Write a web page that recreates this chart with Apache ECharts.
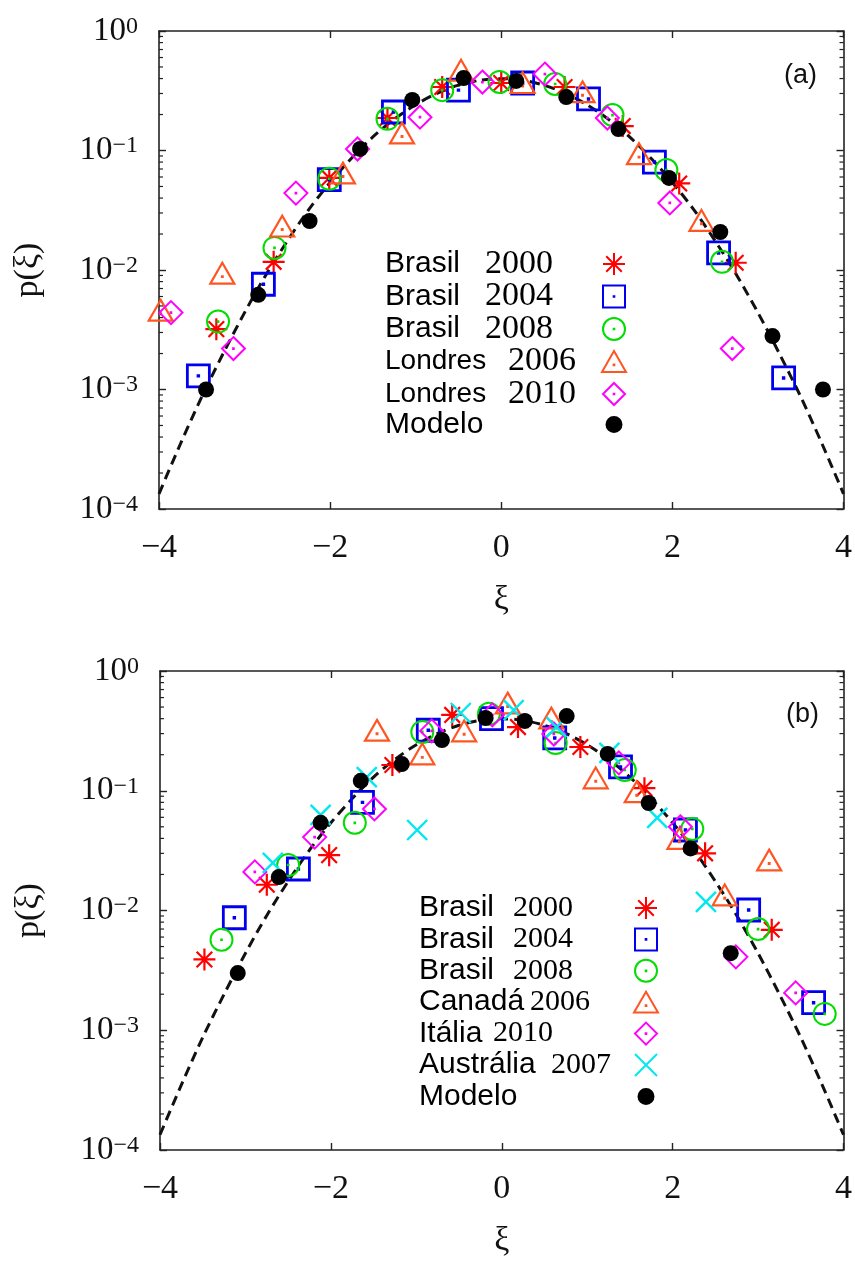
<!DOCTYPE html>
<html><head><meta charset="utf-8">
<script src="https://cdn.jsdelivr.net/npm/echarts@6/dist/echarts.min.js"></script>
<style>html,body{margin:0;padding:0;background:#fff}#c{width:855px;height:1264px}</style>
</head><body><div id="c"></div><script>
// ---------- data ----------
const xTickLabels = {'-4':'−4','-2':'−2','0':'0','2':'2','4':'4'};
const yTickExp = ['0','−1','−2','−3','−4'];
const minorMantissa = [2,3,4,5,6,7,8,9];
const minorDecades = [1e-4,1e-3,1e-2,1e-1];

const curveX = [-4,-3.75,-3.5,-3.25,-3,-2.75,-2.5,-2.25,-2,-1.75,-1.5,-1.25,-1,-0.75,-0.5,-0.25,0,0.25,0.5,0.75,1,1.25,1.5,1.75,2,2.25,2.5,2.75,3,3.25,3.5,3.75,4];
const curveY = [1.34e-4,3.5e-4,8.7e-4,2.0e-3,4.4e-3,9.1e-3,1.75e-2,3.2e-2,5.4e-2,8.6e-2,0.130,0.183,0.242,0.301,0.352,0.387,0.399,0.387,0.352,0.301,0.242,0.183,0.130,8.6e-2,5.4e-2,3.2e-2,1.75e-2,9.1e-3,4.4e-3,2.0e-3,8.7e-4,3.5e-4,1.34e-4];

// panel (a)
const a_bra2000 = [[-3.33,3.2e-3],[-2.66,0.0117],[-2.01,0.059],[-1.33,0.187],[-0.69,0.34],[0.0,0.367],[0.74,0.34],[1.42,0.16],[2.08,0.053],[2.74,0.0115]];
const a_bra2004 = [[-3.54,1.3e-3],[-2.78,7.6e-3],[-2.01,0.057],[-1.26,0.21],[-0.50,0.32],[0.25,0.367],[1.02,0.27],[1.79,0.080],[2.54,0.0139],[3.30,1.25e-3]];
const a_bra2008 = [[-3.31,3.7e-3],[-2.65,0.0153],[-2.01,0.058],[-1.33,0.184],[-0.69,0.32],[-0.02,0.374],[0.63,0.36],[1.30,0.198],[1.93,0.0687],[2.58,0.0117]];
const a_lon2006 = [[-3.98,4.6e-3],[-3.26,9.4e-3],[-2.56,0.0233],[-1.85,0.0648],[-1.16,0.14],[-0.47,0.47],[0.25,0.37],[0.95,0.31],[1.61,0.094],[2.34,0.026]];
const a_lon2010 = [[-3.86,4.4e-3],[-3.13,2.2e-3],[-2.40,0.044],[-1.68,0.103],[-0.95,0.19],[-0.22,0.374],[0.51,0.436],[1.24,0.187],[1.97,0.0364],[2.70,2.2e-3]];
const a_model = [[-3.45,1.0e-3],[-2.84,6.2e-3],[-2.24,0.0257],[-1.65,0.103],[-1.04,0.265],[-0.44,0.404],[0.175,0.382],[0.76,0.28],[1.37,0.151],[1.96,0.059],[2.56,0.0208],[3.17,2.8e-3],[3.76,1.0e-3]];

// panel (b)
const b_bra2000 = [[-3.48,3.9e-3],[-2.75,0.0164],[-2.02,0.029],[-1.28,0.164],[-0.58,0.43],[0.19,0.34],[0.92,0.232],[1.67,0.105],[2.38,0.030],[3.16,6.9e-3]];
const b_bra2004 = [[-3.13,8.7e-3],[-2.38,0.0222],[-1.63,0.080],[-0.86,0.32],[-0.12,0.40],[0.62,0.276],[1.39,0.158],[2.15,0.047],[2.89,0.0101],[3.65,1.7e-3]];
const b_bra2008 = [[-3.28,5.7e-3],[-2.50,0.024],[-1.72,0.054],[-0.93,0.31],[-0.15,0.44],[0.63,0.25],[1.44,0.149],[2.23,0.048],[3.00,7.0e-3],[3.78,1.37e-3]];
const b_can2006 = [[-1.46,0.32],[-0.93,0.203],[-0.44,0.316],[0.07,0.54],[0.58,0.405],[1.10,0.128],[1.58,0.098],[2.08,0.040],[2.61,0.0135],[3.13,0.0264]];
const b_ita2010 = [[-2.89,0.021],[-2.19,0.041],[-1.49,0.0705],[-0.82,0.316],[-0.11,0.43],[0.61,0.298],[1.37,0.171],[2.09,0.050],[2.74,4.1e-3],[3.44,2.05e-3]];
const b_aus2007 = [[-2.68,0.025],[-2.12,0.063],[-1.58,0.130],[-0.99,0.047],[-0.48,0.446],[0.14,0.472],[0.64,0.34],[1.26,0.207],[1.82,0.0593],[2.39,0.0118]];
const b_model = [[-3.09,3.0e-3],[-2.61,0.019],[-2.12,0.054],[-1.65,0.121],[-1.17,0.167],[-0.70,0.265],[-0.19,0.405],[0.27,0.383],[0.76,0.42],[1.24,0.203],[1.72,0.079],[2.21,0.033],[2.68,4.4e-3]];

// ---------- styling ----------
const X_MIN = -4, X_MAX = 4;
const C = {red:'#ff0000', blue:'#0000ee', green:'#00dd00', orange:'#ff5522', magenta:'#ff00ff', cyan:'#00e8f0', black:'#000'};
const SYM = {
  star:'path://M5,0L5,10M0,5L10,5M1.46,1.46L8.54,8.54M8.54,1.46L1.46,8.54',
  square:'path://M0,0L10,0L10,10L0,10Z M4.85,4.85L5.15,4.85L5.15,5.15L4.85,5.15Z',
  circle:'path://M0,5A5,5,0,1,1,10,5A5,5,0,1,1,0,5Z M4.85,4.85L5.15,4.85L5.15,5.15L4.85,5.15Z',
  triangle:'path://M5,0L10,8.66L0,8.66Z M4.85,5.6L5.15,5.6L5.15,5.9L4.85,5.9Z',
  diamond:'path://M5,0L10,5L5,10L0,5Z M4.85,4.85L5.15,4.85L5.15,5.15L4.85,5.15Z',
  cross:'path://M0,0L10,10M10,0L0,10'
};
const SERIF = 'Liberation Serif', SANS = 'Liberation Sans';
const minorTicks = [];
minorDecades.forEach(d => minorMantissa.forEach(m => minorTicks.push(+(m*d).toPrecision(3))));

function sc(name, data, sym, color, size, bw, ai) {
  return {type:'scatter', name, data, xAxisIndex:ai, yAxisIndex:ai, symbol:SYM[sym], symbolSize:size,
    symbolKeepAspect:true,
    itemStyle:{color:'rgba(0,0,0,0)', borderColor:color, borderWidth:bw, opacity:1}, emphasis:{disabled:true}, z:3};
}
function dots(name, data, ai) {
  return {type:'scatter', name, data, xAxisIndex:ai, yAxisIndex:ai, symbol:'circle', symbolSize:16,
    itemStyle:{color:'#000', opacity:1}, emphasis:{disabled:true}, z:4};
}
function curve(ai) {
  return {type:'line', name:'curve'+ai, data:curveX.map((x,i)=>[x,curveY[i]]), xAxisIndex:ai, yAxisIndex:ai,
    showSymbol:false, smooth:0.3, lineStyle:{color:'#111', width:3, type:[10,6]}, z:2, silent:true};
}
function minor(ai) {
  return {type:'custom', xAxisIndex:ai, yAxisIndex:ai, silent:true, clip:false, z:5,
    data:minorTicks.map(v=>[X_MIN, v]),
    renderItem:(p, api) => {
      const v = api.value(1);
      const L = api.coord([X_MIN, v]), R = api.coord([X_MAX, v]);
      return {type:'group', children:[
        {type:'line', shape:{x1:L[0], y1:L[1], x2:L[0]+4, y2:L[1]}, style:{stroke:'#222', lineWidth:1.2}},
        {type:'line', shape:{x1:R[0], y1:R[1], x2:R[0]-4, y2:R[1]}, style:{stroke:'#222', lineWidth:1.2}}
      ]};
    }};
}
const axLine = {show:true, onZero:false, lineStyle:{color:'#222', width:1.6}};
const tick = {show:true, inside:true, length:7, lineStyle:{color:'#222', width:1.4}};
function xAxes(gi) {
  return [
    {type:'value', gridIndex:gi, position:'bottom', min:X_MIN, max:X_MAX, interval:2, axisLine:axLine, axisTick:tick, splitLine:{show:false},
     axisLabel:{margin:22, fontFamily:SERIF, fontSize:34, color:'#111', formatter:v=>xTickLabels[String(v)]},
     name:'ξ', nameLocation:'middle', nameGap:74, nameTextStyle:{fontFamily:SERIF, fontSize:34, color:'#111'}},
    {type:'value', gridIndex:gi, position:'top', min:X_MIN, max:X_MAX, interval:2, axisLine:axLine, axisTick:tick, splitLine:{show:false}, axisLabel:{show:false}}
  ];
}
function yAxes(gi) {
  return [
    {type:'log', logBase:10, gridIndex:gi, position:'left', min:1e-4, max:1, axisLine:axLine, axisTick:tick, splitLine:{show:false}, minorTick:{show:false},
     axisLabel:{margin:21, color:'#111',
       formatter:v=>'{b|10}{s|'+yTickExp[Math.round(-Math.log10(v))]+'}',
       rich:{b:{fontFamily:SERIF, fontSize:33, lineHeight:33, verticalAlign:'bottom', color:'#111'},
             s:{fontFamily:SERIF, fontSize:24, lineHeight:24, padding:[0,0,22,0], verticalAlign:'top', color:'#111'}}},
     name:'p(ξ)', nameLocation:'middle', nameGap:114, nameRotate:90, nameTextStyle:{fontFamily:SERIF, fontSize:34, color:'#111'}},
    {type:'log', logBase:10, gridIndex:gi, position:'right', min:1e-4, max:1, axisLine:axLine, axisTick:tick, splitLine:{show:false}, axisLabel:{show:false}}
  ];
}
function legend(entries, left, top, gap, total, yearSize) {
  const rich = {};
  entries.forEach((e,i) => {
    rich['n'+i] = {fontFamily:SANS, fontSize:e.fs||30, width:e.w, align:'left', color:'#000'};
    rich['y'+i] = {fontFamily:SERIF, fontSize:yearSize, width:total-e.w, align:'left', color:'#000'};
  });
  rich.m = {fontFamily:SANS, fontSize:30, width:total, align:'left', color:'#000'};
  return {orient:'vertical', left, top, padding:0, itemGap:gap, itemWidth:24, itemHeight:22, align:'right', selectedMode:false,
    data:entries.map(e => e.model ? {name:e.key, icon:'circle', itemStyle:{color:'#000', borderColor:'#fff', borderWidth:5, opacity:1}} : {name:e.key}),
    formatter:name => {
      const i = entries.findIndex(e => e.key === name);
      const parts = name.split('·');
      if (entries[i].model) return '{m|'+parts[1]+'}';
      return '{n'+i+'|'+parts[1]+'}{y'+i+'|'+parts[2]+'}';
    },
    textStyle:{rich}};
}

const legA = [
  {key:'a·Brasil·2000', w:100}, {key:'a·Brasil·2004', w:100}, {key:'a·Brasil·2008', w:100},
  {key:'a·Londres·2006', w:123, fs:28}, {key:'a·Londres·2010', w:123, fs:28}, {key:'a·Modelo', model:true}
];
const legB = [
  {key:'b·Brasil·2000', w:94}, {key:'b·Brasil·2004', w:94}, {key:'b·Brasil·2008', w:94},
  {key:'b·Canadá·2006', w:111}, {key:'b·Itália·2010', w:74}, {key:'b·Austrália·2007', w:132}, {key:'b·Modelo', model:true}
];

const chart = echarts.init(document.getElementById('c'), null, {renderer:'canvas'});
chart.setOption({
  backgroundColor:'#fff',
  animation:false,
  title:[
    {text:'(a)', left:779, top:57, textStyle:{fontFamily:SANS, fontSize:27, fontWeight:'normal', color:'#111'}},
    {text:'(b)', left:781, top:696, textStyle:{fontFamily:SANS, fontSize:27, fontWeight:'normal', color:'#111'}}
  ],
  grid:[
    {left:159, top:31, width:685, height:478},
    {left:160, top:671, width:685, height:479}
  ],
  xAxis:[...xAxes(0), ...xAxes(1)],
  yAxis:[...yAxes(0), ...yAxes(1)],
  legend:[legend(legA, 385, 247, -1.5, 212, 34), legend(legB, 419, 893, 1.4, 210, 30)],
  series:[
    curve(0), minor(0),
    sc('a·Brasil·2000', a_bra2000, 'star', C.red, 22, 2.2, 0),
    sc('a·Brasil·2004', a_bra2004, 'square', C.blue, 22, 2.8, 0),
    sc('a·Brasil·2008', a_bra2008, 'circle', C.green, 22, 2.0, 0),
    sc('a·Londres·2006', a_lon2006, 'triangle', C.orange, 24, 2.2, 0),
    sc('a·Londres·2010', a_lon2010, 'diamond', C.magenta, 23, 2.0, 0),
    dots('a·Modelo', a_model, 0),
    curve(2), minor(2),
    sc('b·Brasil·2000', b_bra2000, 'star', C.red, 22, 2.2, 2),
    sc('b·Brasil·2004', b_bra2004, 'square', C.blue, 22, 2.8, 2),
    sc('b·Brasil·2008', b_bra2008, 'circle', C.green, 22, 2.0, 2),
    sc('b·Canadá·2006', b_can2006, 'triangle', C.orange, 24, 2.2, 2),
    sc('b·Itália·2010', b_ita2010, 'diamond', C.magenta, 23, 2.0, 2),
    sc('b·Austrália·2007', b_aus2007, 'cross', C.cyan, 20, 2.4, 2),
    dots('b·Modelo', b_model, 2)
  ]
});
</script></body></html>
